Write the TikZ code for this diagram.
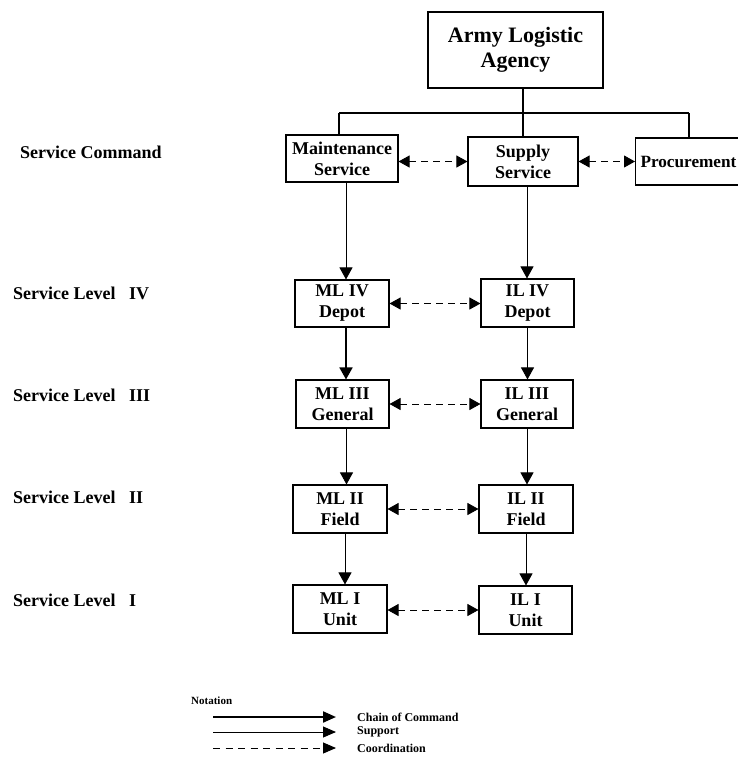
\documentclass[tikz,border=0pt]{standalone}
\usepackage{fontspec}
\setmainfont{Liberation Serif}
\usetikzlibrary{arrows.meta,calc}
\tikzset{
  box/.style={draw, line width=1.1pt, align=center, inner sep=0pt,
    font=\fontsize{18}{21}\selectfont\bfseries},
  lvl/.style={anchor=west, inner sep=0pt, font=\fontsize{18}{21}\selectfont\bfseries},
  cmd/.style={line width=2.6pt},
  sup/.style={line width=0.9pt, -{Triangle[length=12pt,width=13pt]}},
  supthick/.style={line width=1.8pt, -{Triangle[length=12pt,width=13pt]}},
  coord/.style={line width=0.9pt, dash pattern=on 7pt off 5pt,
    {Triangle[length=11pt,width=12pt]}-{Triangle[length=11pt,width=12pt]}},
  legtext/.style={anchor=west, inner sep=0pt, font=\fontsize{12}{14}\selectfont\bfseries},
}
\begin{document}
\begin{tikzpicture}[x=1pt,y=-1pt]
\useasboundingbox (0,0) rectangle (738,758);
\clip (0,0) rectangle (738,758);
\fill[white] (0,0) rectangle (738,758);

% top
\node[box, minimum width=175pt, minimum height=76pt,
  font=\fontsize{22}{25}\selectfont\bfseries] (ala) at (515.5,50) {Army Logistic\\Agency};

% service command
\node[box, minimum width=112pt, minimum height=47pt] (maint) at (342,158.5) {Maintenance\\Service};
\node[box, minimum width=110pt, minimum height=49pt] (supply) at (523,161.5) {Supply\\Service};
\node[box, minimum height=47pt, anchor=west, inner xsep=5pt,
  font=\fontsize{17.2}{21}\selectfont\bfseries] (proc) at (635,161.5) {Procurement};

% ML column
\node[box, minimum width=94pt, minimum height=47pt] (mliv) at (342,303.5) {ML IV\\Depot};
\node[box, minimum width=93pt, minimum height=48pt] (mliii) at (342.5,404) {ML III\\General};
\node[box, minimum width=94pt, minimum height=48pt] (mlii) at (340,509) {ML II\\Field};
\node[box, minimum width=94pt, minimum height=48pt] (mli) at (340,609) {ML I\\Unit};

% IL column
\node[box, minimum width=93pt, minimum height=48pt] (iliv) at (527.5,303) {IL IV\\Depot};
\node[box, minimum width=92pt, minimum height=48pt] (iliii) at (527,404) {IL III\\General};
\node[box, minimum width=94pt, minimum height=48pt] (ilii) at (526,509) {IL II\\Field};
\node[box, minimum width=93pt, minimum height=48pt] (ili) at (525.5,610) {IL I\\Unit};

% level labels
\node[lvl] (lsc) at (20,152) {Service Command};
\node[lvl] (l4) at (13,293) {\makebox[116pt][l]{Service Level}IV};
\node[lvl] (l3) at (13,395) {\makebox[116pt][l]{Service Level}III};
\node[lvl] (l2) at (13,497) {\makebox[116pt][l]{Service Level}II};
\node[lvl] (l1) at (13,600) {\makebox[116pt][l]{Service Level}I};

% chain of command
\coordinate (barL) at (339,113);
\coordinate (barR) at (689,113);
\coordinate (topx) at (523,0);
\draw[cmd] (topx |- ala.south) -- (supply.north);
\draw[cmd] (barL) -- (barR);
\draw[cmd] (barL) -- (barL |- maint.north);
\draw[cmd] (barR) -- (barR |- proc.north);

% support arrows
\coordinate (m1) at ($(maint.south)+(4,0)$);
\coordinate (m2) at ($(mliv.south)+(4,0)$);
\coordinate (m3) at ($(mliii.south)+(4,0)$);
\coordinate (m4) at ($(mlii.south)+(5,0)$);
\coordinate (s1) at ($(supply.south)+(4,0)$);
\draw[sup] (m1) -- (m1 |- mliv.north);
\draw[supthick] (m2) -- (m2 |- mliii.north);
\draw[sup] (m3) -- (m3 |- mlii.north);
\draw[sup] (m4) -- (m4 |- mli.north);

\draw[sup] (s1) -- (s1 |- iliv.north);
\draw[sup] (iliv.south) -- (iliv.south |- iliii.north);
\draw[sup] (iliii.south) -- (iliii.south |- ilii.north);
\draw[sup] (ilii.south) -- (ilii.south |- ili.north);

% coordination
\draw[coord] (maint.east |- supply.west) -- (supply.west);
\draw[coord] (supply.east) -- (proc.west);
\draw[coord] (mliv.east) -- (mliv.east -| iliv.west);
\draw[coord] (mliii.east) -- (mliii.east -| iliii.west);
\draw[coord] (mlii.east) -- (mlii.east -| ilii.west);
\draw[coord] (mli.east |- ili.west) -- (ili.west);

% legend
\node[legtext, font=\fontsize{11}{13}\selectfont\bfseries] (nota) at (191,701) {Notation};
\node[legtext] (tchain) at (357,717) {Chain of Command};
\node[legtext] (tsup) at (357,732) {Support};
\node[legtext] (tcoord) at (357,748) {Coordination};
\coordinate (a1) at (213,717);
\coordinate (a2) at (213,732);
\coordinate (a3) at (213,748);
\coordinate (ax) at (336,0);
\draw[line width=2.2pt, -{Triangle[length=13pt,width=11pt]}] (a1) -- (a1 -| ax);
\draw[line width=0.9pt, -{Triangle[length=13pt,width=11pt]}] (a2) -- (a2 -| ax);
\draw[line width=0.9pt, dash pattern=on 7pt off 5.5pt, -{Triangle[length=13pt,width=11pt]}] (a3) -- (a3 -| ax);
\end{tikzpicture}
\end{document}
